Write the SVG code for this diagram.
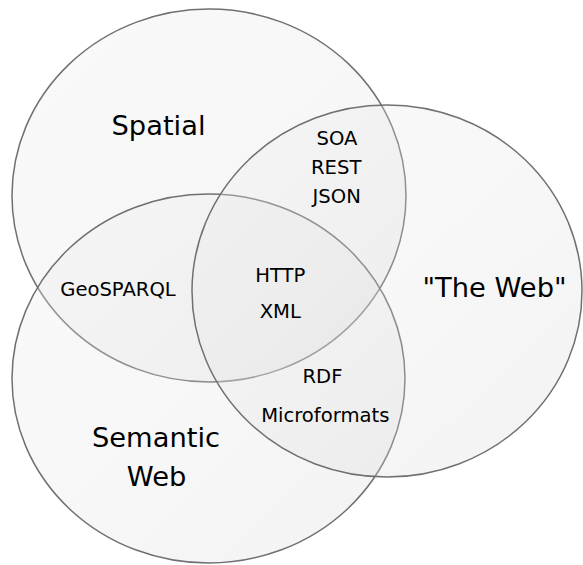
<svg xmlns="http://www.w3.org/2000/svg" width="583" height="565" viewBox="0 0 583 565">
<style>
.set{fill:url(#g);stroke:#707070;stroke-width:1.5}
.big{font-family:"DejaVu Sans",sans-serif;font-size:27.3px;fill:#000;text-anchor:middle}
.sm{font-family:"DejaVu Sans",sans-serif;font-size:19.6px;fill:#000;text-anchor:middle}
</style>
<defs>
<linearGradient id="g" x1="0" y1="0" x2="1" y2="1">
<stop offset="0" stop-color="#f0f0f0" stop-opacity="0.35"/>
<stop offset="0.5" stop-color="#e0e0e0" stop-opacity="0.25"/>
<stop offset="1" stop-color="#d4d4d4" stop-opacity="0.3"/>
</linearGradient>
</defs>
<rect width="583" height="565" fill="#fff"/>
<g id="spatial">
<ellipse class="set" cx="209" cy="195.5" rx="197" ry="186.5"/>
<text class="big" x="158.5" y="135">Spatial</text>
</g>
<g id="semantic-web">
<ellipse class="set" cx="208.5" cy="378.5" rx="196.5" ry="184.5"/>
<text class="big" x="156" y="446.7">Semantic</text>
<text class="big" x="156.5" y="486">Web</text>
</g>
<g id="the-web">
<ellipse class="set" cx="387" cy="291" rx="195" ry="186"/>
<text class="big" x="494.5" y="297.3">"The Web"</text>
</g>
<g id="connectors"></g>
<g id="labels">
<text class="sm" x="337" y="145">SOA</text>
<text class="sm" x="336.2" y="174.3">REST</text>
<text class="sm" x="336.7" y="203.3">JSON</text>
<text class="sm" x="118" y="295.7">GeoSPARQL</text>
<text class="sm" x="280.3" y="282.3">HTTP</text>
<text class="sm" x="280.3" y="318.3">XML</text>
<text class="sm" x="322.5" y="382.7">RDF</text>
<text class="sm" x="325.3" y="421.7">Microformats</text>
</g>
</svg>
